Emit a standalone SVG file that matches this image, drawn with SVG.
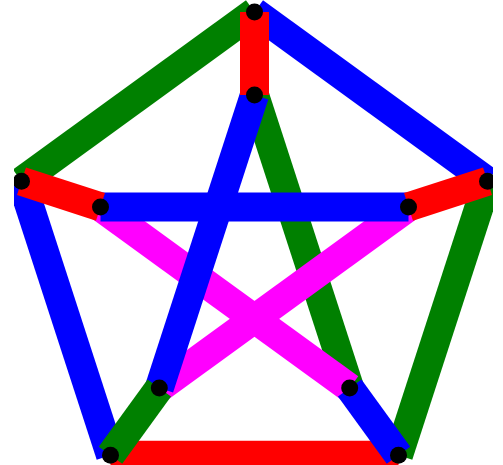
<svg xmlns="http://www.w3.org/2000/svg" width="503" height="465" viewBox="0 0 503 465">
<style>
.e{stroke-width:29;stroke-linecap:butt;fill:none}
.r{stroke:#ff0000}.g{stroke:#008000}.b{stroke:#0000ff}.m{stroke:#ff00ff}
.n{fill:#000000}
</style>
<defs>
<clipPath id="c"><rect x="14" y="0" width="479" height="465"/></clipPath>
</defs>
<rect width="503" height="465" fill="#ffffff"/>
<g clip-path="url(#c)">
<g id="connectors">
<line class="e g" x1="254.5" y1="95" x2="349.7" y2="388"/>
<line class="e m" x1="100.5" y1="206.9" x2="349.7" y2="388"/>
<line class="e m" x1="408.5" y1="206.9" x2="159.3" y2="388"/>
<line class="e b" x1="254.5" y1="95" x2="159.3" y2="388"/>
<line class="e b" x1="100.5" y1="206.9" x2="408.5" y2="206.9"/>
<line class="e g" x1="254.5" y1="12" x2="21.5" y2="181.3"/>
<line class="e b" x1="254.5" y1="12" x2="487.5" y2="181.3"/>
<line class="e g" x1="487.5" y1="181.3" x2="398.5" y2="455.2"/>
<line class="e r" x1="110.5" y1="455.2" x2="398.5" y2="455.2"/>
<line class="e b" x1="21.5" y1="181.3" x2="110.5" y2="455.2"/>
<line class="e r" x1="254.5" y1="12" x2="254.5" y2="95"/>
<line class="e r" x1="21.5" y1="181.3" x2="100.5" y2="206.9"/>
<line class="e r" x1="487.5" y1="181.3" x2="408.5" y2="206.9"/>
<line class="e g" x1="110.5" y1="455.2" x2="159.3" y2="388"/>
<line class="e b" x1="398.5" y1="455.2" x2="349.7" y2="388"/>
</g>
<g id="o0"><circle class="n" cx="254.5" cy="12" r="8.5"/></g>
<g id="o1"><circle class="n" cx="487.5" cy="181.3" r="8.5"/></g>
<g id="o2"><circle class="n" cx="398.5" cy="455.2" r="8.5"/></g>
<g id="o3"><circle class="n" cx="110.5" cy="455.2" r="8.5"/></g>
<g id="o4"><circle class="n" cx="21.5" cy="181.3" r="8.5"/></g>
<g id="i0"><circle class="n" cx="254.5" cy="95" r="8.5"/></g>
<g id="i1"><circle class="n" cx="408.5" cy="206.9" r="8.5"/></g>
<g id="i2"><circle class="n" cx="349.7" cy="388" r="8.5"/></g>
<g id="i3"><circle class="n" cx="159.3" cy="388" r="8.5"/></g>
<g id="i4"><circle class="n" cx="100.5" cy="206.9" r="8.5"/></g>
</g>
</svg>
